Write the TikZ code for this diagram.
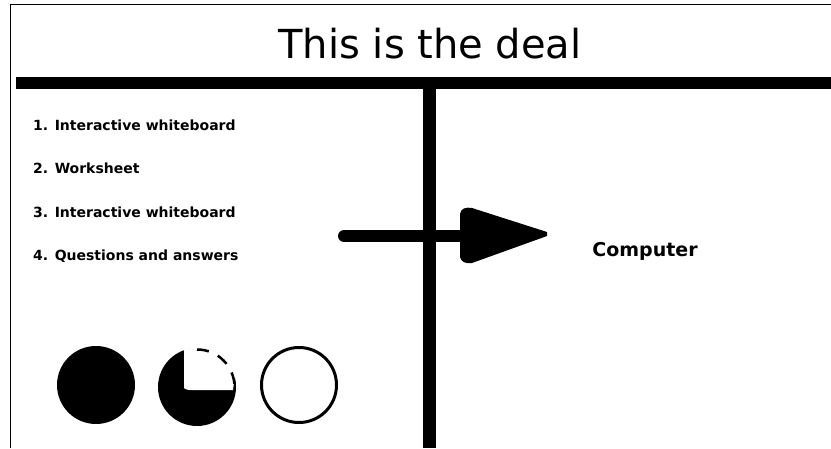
\documentclass[tikz,border=0pt]{standalone}
\usepackage{fontspec}
\setmainfont{DejaVu Sans}
\begin{document}
\begin{tikzpicture}[x=1pt,y=-1pt,
  item/.style={anchor=west,inner sep=0pt,font=\bfseries\fontsize{14}{16}\selectfont},
  bar/.style={line width=12pt},
  disc/.style={circle,minimum size=78pt,inner sep=0pt}]
\useasboundingbox[fill=white] (0,0) rectangle (831,448);
% frame
\draw[line width=1.5pt] (10.5,448) -- (10.5,4.5) -- (831,4.5);
% title
\node[inner sep=0pt,font=\fontsize{40}{46}\selectfont] (title) at (430,44) {This is the deal};
% bars
\coordinate (hl) at (16,83);
\coordinate (hr) at (831,83);
\coordinate (vt) at (429.5,83);
\coordinate (vb) at (429.5,448);
\draw[bar] (hl) -- (hr);
\draw[line width=13pt] (vt) -- (vb);
% list
\node[item] (i1) at (33,125) {1. Interactive whiteboard};
\node[item] (i2) at (33,168) {2. Worksheet};
\node[item] (i3) at (33,212) {3. Interactive whiteboard};
\node[item] (i4) at (33,256) {4. Questions and answers};
% arrow
\coordinate (as) at (344,236);
\coordinate (ae) at (466,236);
\draw[line width=12pt,line cap=round] (as) -- (ae);
\fill (460,214) .. controls (461,208) and (466,207) .. (472,208) -- (547,232) -- (547,236) -- (472,263) .. controls (466,264) and (461,262) .. (460,257) -- cycle;
\node[item,anchor=center,font=\bfseries\fontsize{19}{22}\selectfont] (comp) at (645,251) {Computer};
% circles
\node[disc,fill=black] (c1) at (96,385) {};
\node[disc] (c2) at (197,387) {};
\fill (c2.center) circle (39);
\begin{scope}
  \clip (c2.center) circle (39.5);
  \fill[white] (184,388) .. controls (184,388) and (186,390) .. (190,390) -- (233,390) -- (240,340) -- (184,340) -- cycle;
\end{scope}
\draw[line width=2.5pt,dash pattern=on 12pt off 10pt] ([shift={(0,-37.5)}]c2.center) arc[start angle=-90,end angle=0,radius=37.5];
\node[disc,draw,line width=3pt,minimum size=75pt] (c3) at (299,385) {};
\end{tikzpicture}
\end{document}
